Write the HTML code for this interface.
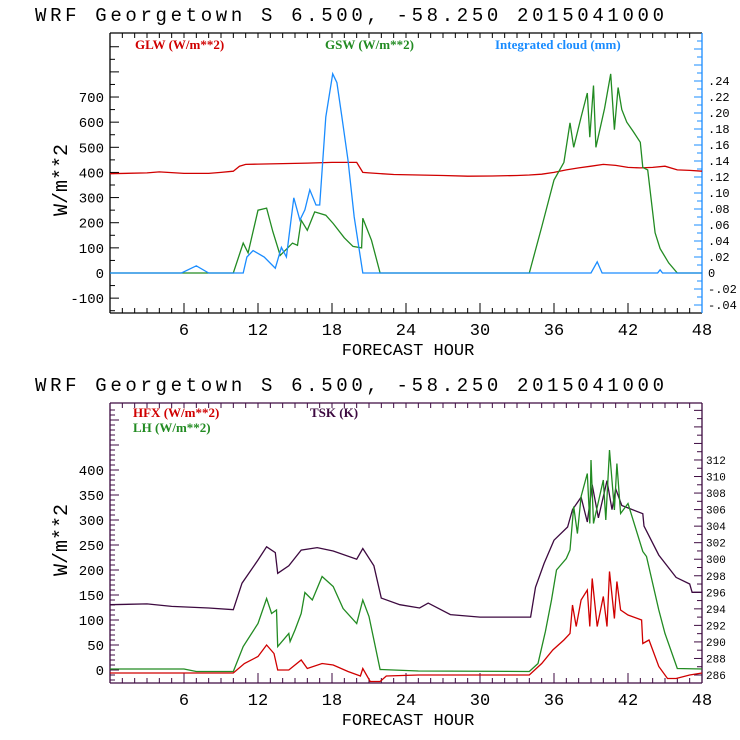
<!DOCTYPE html>
<html><head><meta charset="utf-8"><style>
body{margin:0;background:#fff}
svg{display:block}
text{font-family:"Liberation Mono","DejaVu Sans Mono",monospace}
.leg{font-family:"Liberation Serif",serif;font-size:13px;font-weight:bold}
</style></head><body>
<svg id="chart" width="740" height="740" viewBox="0 0 740 740"></svg>
<script>
// ---- Top panel data ----
const glwHours = [0,3,4,6,8,9,10,10.5,11,12,14,16,18,20,20.5,21,23,25,27,29,31,33,34,35,36,37,38,39,40,41,42,43,44,45,46,47,48];
const glwValues = [395,398,402,396,396,400,405,425,432,433,435,437,440,440,400,398,392,390,388,385,386,388,390,393,400,410,418,425,432,428,420,418,420,425,410,408,405];
const gswHours = [0,10,10.8,11.2,12,12.7,13.2,13.8,14.8,15.2,15.5,16,16.6,17.5,18.1,19,19.7,20.4,20.5,21.2,21.9,34,35,36,36.8,37.3,37.6,38.2,38.7,38.9,39.2,39.4,40.1,40.6,40.9,41.2,41.5,41.9,42.4,43,43.2,43.6,44.2,44.6,45.3,46,48];
const gswValues = [0,0,119,80,250,258,165,70,119,110,210,170,243,230,197,140,106,100,218,130,0,0,183,370,440,597,500,620,716,540,746,500,655,792,570,738,650,600,565,520,420,410,160,97,40,0,0];
const cloudHours = [0,5.8,7,8,10.8,11.1,11.6,12.5,13.4,13.9,14.3,14.9,15.4,15.8,16.2,16.7,17,17.5,18.06,18.4,18.8,19.3,19.8,20.5,39,39.5,39.9,44.4,44.6,44.8,48];
const cloudValues = [0,0,0.009,0,0,0.02,0.028,0.02,0.006,0.032,0.02,0.094,0.066,0.079,0.104,0.085,0.085,0.195,0.249,0.238,0.195,0.141,0.07,0,0,0.014,0,0,0.004,0,0];
// ---- Bottom panel data ----
const tskHours = [0,3,5,8,10,10.7,12,12.7,13.4,13.6,14.5,15.5,16.8,18.1,20,20.5,21.4,22,23.5,25.1,25.8,27.6,30,34.1,34.5,35.2,36,37.1,37.5,38.2,38.7,39.1,39.6,40.3,40.7,41,41.5,43.2,43.3,44.5,45.9,47,47.2,48];
const tskValues = [294.5,294.6,294.3,294.1,293.9,297.1,299.9,301.5,300.8,298.3,299.2,301.1,301.4,301.0,300.0,301.3,299.2,295.3,294.5,294.1,294.7,293.3,293.0,293.0,296.6,299.5,302.3,303.9,306.0,307.5,304.5,309.0,305.0,309.5,306.0,308.5,306.5,305.5,304.0,300.5,297.8,297.0,296.0,296.0];
const lhHours = [0,6,7,10,10.8,12,12.7,13.1,13.5,13.6,14.5,14.6,15,15.5,15.8,16.4,17.2,18.1,18.9,20,20.5,21,21.9,25,34,34.7,35.3,35.8,36.2,37,37.3,37.6,37.9,38.2,38.7,38.9,39,39.2,40,40.2,40.5,40.9,41.1,41.4,42,43.2,43.5,44.5,45,46,48];
const lhValues = [2,2,-3,-3,47,93,143,113,120,47,73,57,80,113,155,140,187,167,123,93,140,107,1,-2,-3,13,77,140,200,223,240,327,273,347,393,293,420,293,380,300,440,320,413,313,333,237,227,120,73,3,2];
const hfxHours = [0,10,10.9,12,12.7,13.3,13.6,14.5,15.5,16,17.2,18.1,19.3,20.3,20.5,21.1,21.9,22.4,25,34,35,35.9,36.8,37.3,37.5,37.8,38.2,38.7,38.9,39.1,39.5,40,40.3,40.5,40.9,41.1,41.4,42,43.1,43.2,43.7,44.5,45.2,45.9,47,48];
const hfxValues = [-6,-6,13,27,50,33,0,0,20,3,13,10,-3,-12,3,-23,-23,-12,-10,-10,13,40,60,73,130,87,140,160,87,183,87,147,87,197,103,177,120,110,100,53,60,7,-17,-17,-10,-6];
const leftTicksTop = [-100,0,100,200,300,400,500,600,700];
const rightTicksTop = [-0.04,-0.02,0,0.02,0.04,0.06,0.08,0.10,0.12,0.14,0.16,0.18,0.20,0.22,0.24];
const leftTicksBot = [0,50,100,150,200,250,300,350,400];
const rightTicksBot = [286,288,290,292,294,296,298,300,302,304,306,308,310,312];
const xTicks = [6,12,18,24,30,36,42,48];

const NS="http://www.w3.org/2000/svg";
const svg=document.getElementById('chart');
function el(tag,attrs,parent){const e=document.createElementNS(NS,tag);for(const k in attrs)e.setAttribute(k,attrs[k]);(parent||svg).appendChild(e);return e;}
function txt(s,attrs,parent){const e=el('text',attrs,parent);e.textContent=s;return e;}
const X0=110,X1=702;
const xs=h=>X0+(X1-X0)*h/48;
// axis functions
const yTopL=v=>273-v*0.2514;
const yTopR=v=>273-v*800;
const yBotL=v=>670-v*0.5;
const yBotR=v=>675-(v-286)*8.27;

function line(hours,vals,yf,color,name,g){
  let d='';hours.forEach((h,i)=>{d+=(i?'L':'M')+xs(h).toFixed(1)+' '+yf(vals[i]).toFixed(1);});
  const p=el('path',{d:d,fill:'none',stroke:color,'stroke-width':1.3},g);
  
  
}
function panel(top,bot,title,frameColor,rightColor,g){
  const t=txt(title,{x:35,y:top-12,'font-size':19,textLength:629,lengthAdjust:'spacing'},g);
  
  
  el('line',{x1:X0,y1:top,x2:X1,y2:top,stroke:frameColor,'stroke-width':1.3},g);
  el('line',{x1:X0,y1:bot,x2:X1,y2:bot,stroke:frameColor,'stroke-width':1.3},g);
  el('line',{x1:X0,y1:top,x2:X0,y2:bot,stroke:frameColor,'stroke-width':1.3},g);
  el('line',{x1:X1,y1:top,x2:X1,y2:bot,stroke:rightColor,'stroke-width':1.3},g);
  for(let h=1;h<48;h++){const big=h%6==0;const x=xs(h);
    el('line',{x1:x,y1:bot,x2:x,y2:bot-(big?10:5),stroke:frameColor},g);
    el('line',{x1:x,y1:top,x2:x,y2:top+5,stroke:frameColor},g);}
  xTicks.forEach(h=>{const t=txt(String(h),{x:xs(h),y:bot+22,'font-size':17,'text-anchor':'middle'},g);
    
    });
  const xt=txt('FORECAST HOUR',{x:408,y:bot+42,'font-size':17,'text-anchor':'middle'},g);
  
  
}
// ---- top panel ----
const gT=el('g',{});


panel(33,313,'WRF  Georgetown S   6.500, -58.250  2015041000','#000','#1a8cff',gT);
for(let v=-150;v<=1000;v+=50){const y=yTopL(v);if(y>35&&y<311)el('line',{x1:X0,y1:y,x2:X0+(v%100==0?9:5),y2:y,stroke:'#000'},gT);}
for(let i=-5;i<=29;i++){const y=yTopR(i/100);if(y>35&&y<311)el('line',{x1:X1,y1:y,x2:X1-(i%2==0?8:5),y2:y,stroke:'#1a8cff'},gT);}
leftTicksTop.forEach(v=>{const t=txt(String(v),{x:104,y:yTopL(v)+5,'font-size':14,'text-anchor':'end'},gT);
  
  });
rightTicksTop.forEach(v=>{let s=v.toFixed(2).replace('0.','.');if(v===0)s='0';const t=txt(s,{x:708,y:yTopR(v)+4,'font-size':12},gT);
  
  });
const yt1=txt('W/m**2',{x:0,y:0,'font-size':20,'text-anchor':'middle',transform:'translate(67,180) rotate(-90)'},gT);


[['GLW (W/m**2)',135,'#d00000','legend-glw'],['GSW (W/m**2)',325,'#228b22','legend-gsw'],['Integrated cloud (mm)',495,'#1a8cff','legend-cloud']].forEach(a=>{
  const t=txt(a[0],{x:a[1],y:49,fill:a[2],class:'leg'},gT);
  
  });
line(glwHours,glwValues,yTopL,'#d00000','glw-line',gT);
line(gswHours,gswValues,yTopL,'#228b22','gsw-line',gT);
line(cloudHours,cloudValues,yTopR,'#1a8cff','cloud-line',gT);
// ---- bottom panel ----
const gB=el('g',{});


const PC='#3d0a40';
panel(403,683,'WRF  Georgetown S   6.500, -58.250  2015041000',PC,PC,gB);
for(let v=-20;v<=560;v+=10){const y=yBotL(v);if(y>405&&y<681)el('line',{x1:X0,y1:y,x2:X0+(v%50==0?9:5),y2:y,stroke:PC},gB);}
for(let k=285;k<=320;k++){const y=yBotR(k);if(y>405&&y<681)el('line',{x1:X1,y1:y,x2:X1-(k%2==0?8:5),y2:y,stroke:PC},gB);}
leftTicksBot.forEach(v=>{const t=txt(String(v),{x:104,y:yBotL(v)+5,'font-size':14,'text-anchor':'end'},gB);
  
  });
rightTicksBot.forEach(v=>{const t=txt(String(v),{x:706,y:yBotR(v)+4,'font-size':11},gB);
  
  });
const yt2=txt('W/m**2',{x:0,y:0,'font-size':20,'text-anchor':'middle',transform:'translate(67,540) rotate(-90)'},gB);


[['HFX (W/m**2)',133,417,'#d00000','legend-hfx'],['LH  (W/m**2)',133,432,'#228b22','legend-lh'],['TSK (K)',310,417,PC,'legend-tsk']].forEach(a=>{
  const t=txt(a[0],{x:a[1],y:a[2],fill:a[3],class:'leg','xml:space':'preserve'},gB);
  
  });
line(tskHours,tskValues,yBotR,PC,'tsk-line',gB);
line(lhHours,lhValues,yBotL,'#228b22','lh-line',gB);
line(hfxHours,hfxValues,yBotL,'#d00000','hfx-line',gB);
</script>
</body></html>
